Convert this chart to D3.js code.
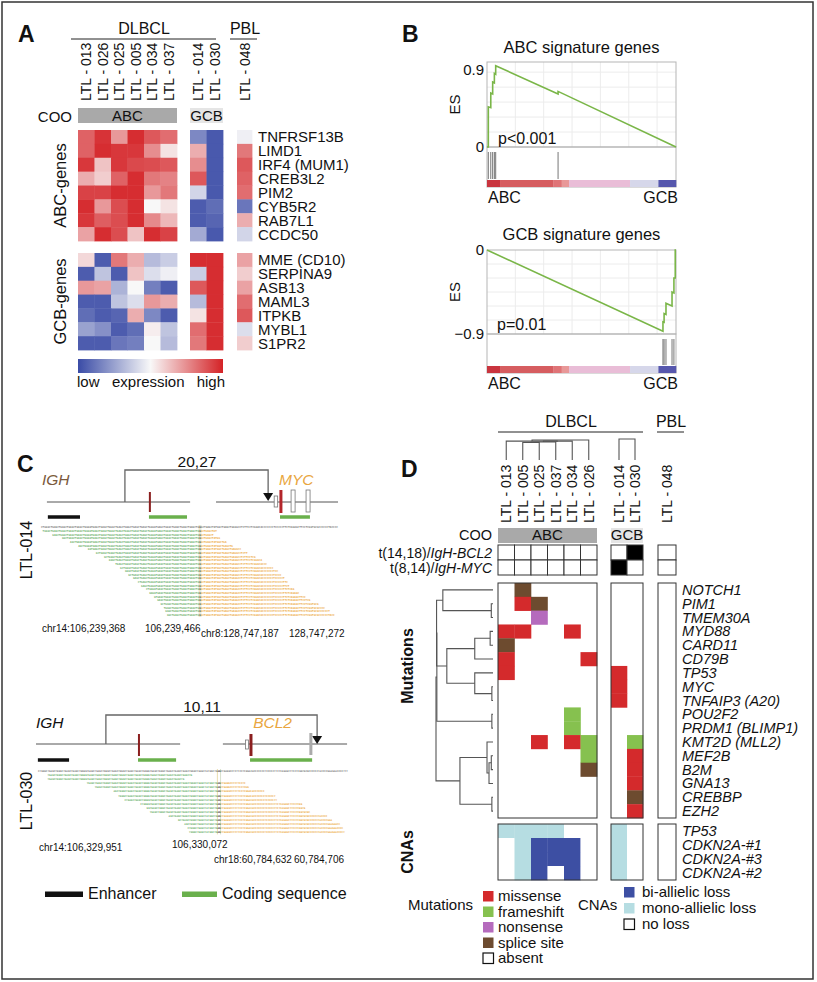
<!DOCTYPE html>
<html>
<head>
<meta charset="utf-8">
<script src="https://cdnjs.cloudflare.com/ajax/libs/d3/7.8.5/d3.min.js"></script>
<style>
  body { margin: 0; background: #fff; }
  svg { display: block; font-family: "Liberation Sans", Arial, Helvetica, sans-serif; }
</style>
</head>
<body>
<script>
// ---------------- data : panel A ----------------
const aAbcSamples = ["LTL - 013", "LTL - 026", "LTL - 025", "LTL - 005", "LTL - 034", "LTL - 037"];
const aGcbSamples = ["LTL - 014", "LTL - 030"];
const aPblSamples = ["LTL - 048"];
const abcGenes = ["TNFRSF13B", "LIMD1", "IRF4 (MUM1)", "CREB3L2", "PIM2", "CYB5R2", "RAB7L1", "CCDC50"];
const gcbGenes = ["MME (CD10)", "SERPINA9", "ASB13", "MAML3", "ITPKB", "MYBL1", "S1PR2"];
// columns: 013 026 025 005 034 037 | 014 030 | 048   (scaled expression, -1 low .. 1 high)
const abcExpr = [
  [0.70, 0.92, 0.45, 0.95, 0.75, 0.65, -0.65, -0.92, -0.05],
  [0.70, 0.95, 0.90, 0.90, 0.50, 0.10, 0.35, -0.92, 0.60],
  [0.90, 0.25, 0.90, 0.82, 0.80, 0.75, 0.50, -0.92, 0.75],
  [0.35, 0.20, 0.70, 0.95, 0.60, 0.55, 0.75, -0.92, 0.70],
  [0.85, 0.85, 0.95, 0.95, 0.45, 0.60, -0.20, -0.92, 0.65],
  [0.95, 0.45, 0.80, 0.95, 0.00, 0.10, -0.90, -0.80, -0.75],
  [0.90, 0.72, 0.80, 0.95, 0.52, 0.30, -0.90, -0.85, 0.35],
  [0.40, 0.95, 0.80, 0.25, 0.95, 0.85, -0.45, -0.92, -0.20]
];
const gcbExpr = [
  [0.15, -0.90, 0.60, 0.35, -0.35, -0.25, 0.95, 0.95, 0.40],
  [-0.90, -0.30, -0.90, 0.25, -0.15, -0.05, -0.25, 0.95, 0.20],
  [0.45, 0.40, -0.40, 0.00, -0.70, -0.90, 0.75, 0.95, 0.40],
  [-0.90, -0.90, -0.30, -0.15, 0.45, 0.35, -0.35, 0.95, 0.65],
  [-0.80, -0.90, -0.85, 0.35, -0.65, -0.90, 0.10, 0.95, 0.75],
  [-0.50, -0.60, -0.90, -0.80, 0.05, -0.30, 0.65, 0.95, -0.15],
  [-0.90, -0.90, -0.75, -0.70, 0.00, -0.35, 0.60, 0.95, 0.20]
];

// ---------------- data : panel B ----------------
const abcEsCurve = [[0, 0], [0.007, 0], [0.007, 0.47], [0.020, 0.46], [0.020, 0.63], [0.030, 0.62], [0.030, 0.76],
  [0.039, 0.75], [0.039, 0.86], [0.046, 0.85], [0.046, 0.95], [0.376, 0.62], [0.376, 0.65], [1, 0]];
const abcHits = [0.007, 0.020, 0.030, 0.039, 0.046, 0.376];
const gcbEsCurve = [[0, 0], [0.931, -0.87], [0.931, -0.77], [0.937, -0.775], [0.937, -0.68], [0.947, -0.69], [0.947, -0.57],
  [0.979, -0.60], [0.979, -0.45], [0.989, -0.46], [0.989, -0.30], [0.996, -0.30], [0.996, 0], [1, 0]];
const gcbHits = [0.931, 0.937, 0.947, 0.979, 0.989];
const rankBreaks = [0, 0.069, 0.351, 0.395, 0.434, 0.757, 0.907, 1];
const rankScores = [2.0, 1.5, 1.1, 0.8, 0.3, -0.2, -1.6];

// ---------------- data : panel C ----------------
// schematic units 0..100 across the panel
const c1IghLine = [3.5, 49.4], c1MycLine = [57.7, 96.8], c1Bracket = [28.5, 74.4];
const c1Enhancer = [3.8, 14.1], c1Coding = [[36.2, 48.4], [78.2, 87.8]];
const c1IghMark = 36.5, c1MycMark = 78.5, c1Exons = [76.9, 82.4, 87.2];
const c2IghLine = [0, 46.2], c2Bcl2Line = [59.9, 99.7], c2Bracket = [22.4, 90.1];
const c2Enhancer = [0.6, 10.6], c2Coding = [[32.7, 44.9], [68.6, 88.5]];
const c2IghMark = 33.0, c2Bcl2Mark = 68.9, c2Bcl2Exon = 67.6, c2GrayMark = 88.1;
// reads: start/end in bp along the junction window
const c1Length = 184, c1Junction = 98;
const c1ReadStart = [1, 7, 13, 18, 23, 29, 34, 39, 42, 46, 49, 52, 54, 57, 60, 62, 65, 67, 70, 72, 74, 76, 77, 78];
const c1ReadEnd = [109, 107, 111, 115, 119, 124, 128, 133, 137, 140, 144, 147, 149, 151, 153, 154, 157, 160, 164, 167, 172, 176, 179, 182];
const c2Length = 197, c2Junction = 114, c2Micro = 2;
const c2ReadStart = [6, 6, 31, 36, 48, 51, 55, 65, 69, 71, 83, 89, 93, 95, 96];
const c2ReadEnd = [98, 93, 132, 134, 144, 151, 152, 168, 170, 173, 184, 187, 192, 194, 195];
const dnaBase = "CTGGGCTGAGCTGGGCTGAGCTGAGCTGGGGTGAGCTGAGCTGGGCTGAGCTGGGCTGAGCTGAGCTGGGGTGAGCTGGGCTGAGCTGAGCTGAGCTGGGCTGAGCTATGGCTGAGCTGAGGCCTCTTCCTCGGACACCCCCCCTCCCCCTTCTCAGAGCTTCCTCGGTGCGCCCCCCTACCCCGAAGAACCCCTTTTGCTGGACG";
const dnaSeq = dnaBase + dnaBase;

// ---------------- data : panel D ----------------
const dAbcSamples = ["LTL - 013", "LTL - 005", "LTL - 025", "LTL - 037", "LTL - 034", "LTL - 026"];
const dGcbSamples = ["LTL - 014", "LTL - 030"];
const dPblSamples = ["LTL - 048"];
const transRows = ["t(14,18)/", "t(8,14)/"];
const transGenes = ["IgH-BCL2", "IgH-MYC"];
const transPositive = [["t(14,18)/", "LTL - 030"], ["t(8,14)/", "LTL - 014"]];
const mutGenes = ["NOTCH1", "PIM1", "TMEM30A", "MYD88", "CARD11", "CD79B", "TP53", "MYC", "TNFAIP3 (A20)", "POU2F2",
  "PRDM1 (BLIMP1)", "KMT2D (MLL2)", "MEF2B", "B2M", "GNA13", "CREBBP", "EZH2"];
const mutations = [
  ["NOTCH1", "LTL - 005", "splice"],
  ["PIM1", "LTL - 005", "missense"], ["PIM1", "LTL - 025", "splice"],
  ["TMEM30A", "LTL - 025", "nonsense"],
  ["MYD88", "LTL - 013", "missense"], ["MYD88", "LTL - 005", "missense"], ["MYD88", "LTL - 034", "missense"],
  ["CARD11", "LTL - 013", "splice"],
  ["CD79B", "LTL - 013", "missense"], ["CD79B", "LTL - 026", "missense"],
  ["TP53", "LTL - 013", "missense"], ["TP53", "LTL - 014", "missense"],
  ["MYC", "LTL - 014", "missense"],
  ["TNFAIP3 (A20)", "LTL - 014", "missense"],
  ["POU2F2", "LTL - 034", "frameshift"],
  ["PRDM1 (BLIMP1)", "LTL - 034", "frameshift"],
  ["KMT2D (MLL2)", "LTL - 025", "missense"], ["KMT2D (MLL2)", "LTL - 034", "missense"],
  ["KMT2D (MLL2)", "LTL - 026", "frameshift"], ["KMT2D (MLL2)", "LTL - 030", "frameshift"],
  ["MEF2B", "LTL - 026", "frameshift"], ["MEF2B", "LTL - 030", "missense"],
  ["B2M", "LTL - 026", "splice"], ["B2M", "LTL - 030", "missense"],
  ["GNA13", "LTL - 030", "missense"],
  ["CREBBP", "LTL - 030", "splice"],
  ["EZH2", "LTL - 030", "missense"]
];
const cnaGenes = ["TP53", "CDKN2A-#1", "CDKN2A-#3", "CDKN2A-#2"];
// columns: 013 005 025 037 034 026 | 014 030 | 048 ; 0 no loss, 1 mono-allelic, 2 bi-allelic
const cnaCalls = [
  [1, 1, 1, 1, 0, 0, 1, 0, 0],
  [0, 1, 2, 2, 2, 0, 1, 0, 0],
  [0, 1, 2, 2, 2, 0, 1, 0, 0],
  [0, 1, 2, 0, 2, 0, 1, 0, 0]
];
// dendrogram merges: [id, left, right, height 0..1]
const colMerges = [
  ["t1", "LTL - 005", "LTL - 025", 0.83], ["t2", "t1", "LTL - 037", 0.86], ["t3", "t2", "LTL - 034", 0.9],
  ["t4", "LTL - 013", "t3", 0.9], ["t5", "t4", "LTL - 026", 0.95], ["g1", "LTL - 014", "LTL - 030", 1.0]
];
const rowMerges = [
  ["m1", "PIM1", "TMEM30A", 0.03], ["m2", "NOTCH1", "m1", 0.88],
  ["m3", "MYD88", "CARD11", 0.05], ["m4", "m3", "CD79B", 0.32],
  ["m5", "MYC", "TNFAIP3 (A20)", 0.02], ["m6", "TP53", "m5", 0.32], ["m7", "m4", "m6", 0.81],
  ["m8", "POU2F2", "PRDM1 (BLIMP1)", 0.02],
  ["m9", "m2", "m7", 0.99], ["m10", "m9", "m8", 0.985],
  ["b1", "MEF2B", "B2M", 0.03], ["b2", "b1", "GNA13", 0.07], ["b3", "KMT2D (MLL2)", "b2", 0.105],
  ["b4", "CREBBP", "EZH2", 0.02], ["b5", "b3", "b4", 0.58], ["root", "m10", "b5", 1.0]
];
const mutTypes = ["missense", "frameshift", "nonsense", "splice", "absent"];
const mutTypeLabels = ["missense", "frameshift", "nonsense", "splice site", "absent"];
const cnaTypes = [2, 1, 0];
const cnaTypeLabels = ["bi-allielic loss", "mono-allielic loss", "no loss"];

// ---------------- drawing ----------------
const svg = d3.select("body").append("svg").attr("width", 817).attr("height", 982);
svg.append("rect").attr("x", 2).attr("y", 2).attr("width", 811).attr("height", 977)
  .attr("fill", "#fff").attr("stroke", "#333").attr("stroke-width", 1.5);

function label(g, x, y, s, size, anchor) {
  return g.append("text").attr("x", x).attr("y", y).attr("text-anchor", anchor || "start")
    .style("font-size", size + "px").attr("fill", "#111").text(s);
}
function vlabel(g, x, y, s, size, anchor) {
  return g.append("text").attr("transform", "translate(" + x + "," + y + ") rotate(-90)")
    .attr("text-anchor", anchor || "middle").style("font-size", size + "px").attr("fill", "#111").text(s);
}
function hline(g, x1, x2, y, color, w) {
  g.append("line").attr("x1", x1).attr("x2", x2).attr("y1", y).attr("y2", y)
    .attr("stroke", color || "#222").attr("stroke-width", w || 1);
}

const heatColor = d3.scaleLinear().domain([-1, 0, 1]).range(["#3a4ba6", "#f8f8f8", "#d42226"]);

// ===== Panel A =====
const A = svg.append("g");
label(A, 18, 42, "A", 23).style("font-weight", "bold");
label(A, 144, 34, "DLBCL", 16, "middle");
hline(A, 71, 216, 39);
label(A, 245, 34, "PBL", 16, "middle");
hline(A, 230, 257, 39);

const axAbc = d3.scaleBand().domain(aAbcSamples).range([78, 177]);
const axGcb = d3.scaleBand().domain(aGcbSamples).range([190, 223]);
const axPbl = d3.scaleBand().domain(aPblSamples).range([237, 252]);
const aCols = aAbcSamples.map(s => [s, axAbc]).concat(aGcbSamples.map(s => [s, axGcb]), aPblSamples.map(s => [s, axPbl]));

aCols.forEach(([s, sc]) => {
  vlabel(A, sc(s) + sc.bandwidth() / 2 + 5, 101, s, 14, "start");
});

label(A, 72, 122, "COO", 15, "end");
A.append("rect").attr("x", 78).attr("y", 108).attr("width", 99).attr("height", 15).attr("fill", "#a9a9a9");
label(A, 127.5, 121, "ABC", 15, "middle");
A.append("rect").attr("x", 190).attr("y", 108).attr("width", 33).attr("height", 15).attr("fill", "#e5e5e5");
label(A, 206.5, 121, "GCB", 15, "middle");

const ayAbc = d3.scaleBand().domain(abcGenes).range([130, 241]);
const ayGcb = d3.scaleBand().domain(gcbGenes).range([253, 350]);
function drawHeat(genes, expr, ys) {
  genes.forEach((gname, i) => {
    aCols.forEach(([s, sc], j) => {
      A.append("rect").attr("x", sc(s)).attr("y", ys(gname))
        .attr("width", sc.bandwidth() + 0.4).attr("height", ys.bandwidth() + 0.4)
        .attr("fill", heatColor(expr[i][j]));
    });
    label(A, 258, ys(gname) + ys.bandwidth() / 2 + 5.5, gname, 15);
  });
}
drawHeat(abcGenes, abcExpr, ayAbc);
drawHeat(gcbGenes, gcbExpr, ayGcb);
vlabel(A, 66, 185.5, "ABC-genes", 16.5);
vlabel(A, 66, 301.5, "GCB-genes", 16.5);

const grad = svg.append("defs").append("linearGradient").attr("id", "heatgrad");
[-1, -0.5, 0, 0.5, 1].forEach(v => {
  grad.append("stop").attr("offset", ((v + 1) / 2 * 100) + "%").attr("stop-color", heatColor(v));
});
A.append("rect").attr("x", 78).attr("y", 359).attr("width", 145).attr("height", 14).attr("fill", "url(#heatgrad)");
label(A, 77, 387, "low", 15);
label(A, 112, 387, "expression", 15);
label(A, 225, 387, "high", 15, "end");

// ===== Panel B =====
const B = svg.append("g");
label(B, 402, 42, "B", 23).style("font-weight", "bold");
const rankColor = d3.scaleLinear().domain([-1.6, -0.2, 0.3, 0.8, 1.1, 1.5, 2.0])
  .range(["#5657ad", "#d6d7ea", "#e9bdd7", "#e89898", "#df7477", "#d65d60", "#c9343e"]);

function drawGsea(cfg) {
  const g = B.append("g");
  const x = d3.scaleLinear().domain([0, 1]).range([487, 676]);
  const y = d3.scaleLinear().domain(cfg.domain).range(cfg.range);
  const top = cfg.boxTop, bottom = cfg.esBottom;
  label(g, 581.5, cfg.titleY, cfg.title, 16.5, "middle");
  // grid
  d3.range(0.15, 0.95, 0.15).forEach(f => {
    g.append("line").attr("x1", x(f)).attr("x2", x(f)).attr("y1", top).attr("y2", bottom).attr("stroke", "#ececec");
  });
  cfg.grid.forEach(v => {
    g.append("line").attr("x1", 487).attr("x2", 676).attr("y1", y(v)).attr("y2", y(v)).attr("stroke", "#ececec");
  });
  g.append("rect").attr("x", 487).attr("y", top).attr("width", 189).attr("height", bottom - top)
    .attr("fill", "none").attr("stroke", "#b5b5b5");
  // rank area
  g.append("rect").attr("x", 487).attr("y", bottom).attr("width", 189).attr("height", cfg.barBottom - bottom)
    .attr("fill", "none").attr("stroke", "#b5b5b5");
  cfg.hits.forEach(h => {
    g.append("line").attr("x1", x(h)).attr("x2", x(h)).attr("y1", bottom + 5).attr("y2", cfg.barBottom - 8)
      .attr("stroke", "#666").attr("stroke-width", 0.9);
  });
  rankScores.forEach((s, i) => {
    g.append("rect").attr("x", x(rankBreaks[i])).attr("y", cfg.barBottom - 7)
      .attr("width", x(rankBreaks[i + 1]) - x(rankBreaks[i]) + 0.3).attr("height", 7).attr("fill", rankColor(s));
  });
  label(g, 488, cfg.barBottom + 16, "ABC", 16);
  label(g, 678, cfg.barBottom + 16, "GCB", 16, "end");
  // curve
  g.append("path").attr("d", d3.line().x(d => x(d[0])).y(d => y(d[1]))(cfg.curve))
    .attr("fill", "none").attr("stroke", "#7ab648").attr("stroke-width", 1.6);
  // axis
  const ax = g.append("g").attr("transform", "translate(487,0)")
    .call(d3.axisLeft(y).tickValues(cfg.ticks).tickSize(0).tickPadding(3).tickFormat(d3.format("")));
  ax.select(".domain").remove();
  ax.selectAll("text").style("font-size", "15px").style("font-family", "inherit").attr("fill", "#111");
  vlabel(g, 460, (top + bottom) / 2, "ES", 15);
  label(g, cfg.pX, cfg.pY, cfg.pText, 16);
}
drawGsea({ title: "ABC signature genes", titleY: 53, domain: [0, 0.9], range: [147, 70], boxTop: 62, esBottom: 147,
  barBottom: 187, grid: [0.175, 0.35, 0.525, 0.7, 0.875], hits: abcHits, curve: abcEsCurve, ticks: [0, 0.9],
  pText: "p<0.001", pX: 498, pY: 144 });
drawGsea({ title: "GCB signature genes", titleY: 240, domain: [-0.9, 0], range: [334, 250], boxTop: 250, esBottom: 334,
  barBottom: 373, grid: [-0.15, -0.3, -0.45, -0.6, -0.75], hits: gcbHits, curve: gcbEsCurve, ticks: [0, -0.9],
  pText: "p=0.01", pX: 497, pY: 330 });

// ===== Panel C =====
const C = svg.append("g");
label(C, 17, 472, "C", 23).style("font-weight", "bold");
const cx = d3.scaleLinear().domain([0, 100]).range([36, 348]);
const green = "#6ab04c", darkRed = "#8b1f1f", orange = "#e9a640", gene = "#555";

function bracket(g, x1, x2, yLine, yTop, yArrow, text, textX) {
  g.append("path").attr("d", d3.line()([[cx(x1), yLine], [cx(x1), yTop], [cx(x2), yTop], [cx(x2), yArrow - 6]]))
    .attr("fill", "none").attr("stroke", "#666").attr("stroke-width", 1.3);
  g.append("path").attr("d", d3.line()([[cx(x2) - 5, yArrow - 7], [cx(x2) + 5, yArrow - 7], [cx(x2), yArrow + 1]]) + "Z")
    .attr("fill", "#111");
  label(g, cx(textX), yTop - 3, text, 15.5, "middle");
}
function bar(g, range, y, color, w) {
  g.append("line").attr("x1", cx(range[0])).attr("x2", cx(range[1])).attr("y1", y).attr("y2", y)
    .attr("stroke", color).attr("stroke-width", w);
}
function mark(g, pos, y1, y2, color, w) {
  g.append("rect").attr("x", cx(pos) - w / 2).attr("y", y1).attr("width", w).attr("height", y2 - y1).attr("fill", color);
}
function exon(g, pos, y1, y2, w, stroke) {
  g.append("rect").attr("x", cx(pos) - w / 2).attr("y", y1).attr("width", w).attr("height", y2 - y1)
    .attr("fill", "#fff").attr("stroke", stroke || "#777").attr("stroke-width", 0.8);
}

// LTL-014 : IGH-MYC
label(C, 42, 485, "IGH", 15.5).style("font-style", "italic").attr("fill", "#7b5a3c");
label(C, 279, 485, "MYC", 15.5).style("font-style", "italic").attr("fill", orange);
bar(C, c1IghLine, 502, gene, 1);
bar(C, c1MycLine, 502, gene, 1);
bracket(C, c1Bracket[0], c1Bracket[1], 502, 470, 500, "20,27", 51.6);
mark(C, c1IghMark, 492, 512, darkRed, 2);
exon(C, c1Exons[0], 496, 507, 3.5);
mark(C, c1MycMark, 490, 513, "#b3262a", 3);
exon(C, c1Exons[1], 490, 512, 4);
exon(C, c1Exons[2], 490, 512, 4);
bar(C, c1Enhancer, 517, "#111", 3.5);
c1Coding.forEach(r => bar(C, r, 517, green, 3.5));
vlabel(C, 32, 550, "LTL-014", 16);

// each read: green part (IGH side), junction bases, orange part (partner side)
function drawReads(g, len, xr, junc, jlen, refY, y0, step, starts, ends, fs) {
  const bx = d3.scaleLinear().domain([0, len]).range(xr);
  const seg = (a, b, y, color) => {
    if (b <= a) return;
    g.append("text").attr("x", bx(a)).attr("y", y)
      .attr("textLength", bx(b) - bx(a) - 0.1).attr("lengthAdjust", "spacingAndGlyphs")
      .style("font-family", "'DejaVu Sans Mono', monospace").style("font-size", fs + "px").style("font-weight", "bold")
      .attr("fill", color).text(dnaSeq.slice(a, b));
  };
  const rows = [[0, len, refY, true]].concat(starts.map((s, i) => [s, ends[i], y0 + i * step, false]));
  const lastY = y0 + (starts.length - 1) * step;
  g.append("line").attr("x1", bx(junc)).attr("x2", bx(junc)).attr("y1", refY - 3).attr("y2", lastY + 1)
    .attr("stroke", "#e6d49a").attr("stroke-width", 0.8);
  g.append("line").attr("x1", bx(junc + jlen)).attr("x2", bx(junc + jlen)).attr("y1", refY - 3).attr("y2", lastY + 1)
    .attr("stroke", "#cfd9c0").attr("stroke-width", 0.8);
  rows.forEach(([s, e, y, ref]) => {
    seg(s, Math.min(e, junc), y, ref ? "#777" : "#66ad66");
    if (e > junc) seg(junc, Math.min(e, junc + jlen), y, "#333");
    if (e > junc + jlen) seg(junc + jlen, e, y, ref ? "#777" : "#eca83c");
  });
}
drawReads(C, c1Length, [41, 338], c1Junction, 1, 528, 532, 3.65, c1ReadStart, c1ReadEnd, 2.65);
label(C, 42, 632, "chr14:106,239,368", 10);
label(C, 145, 632, "106,239,466", 10);
label(C, 201, 637, "chr8:128,747,187", 10);
label(C, 289, 637, "128,747,272", 10);

// LTL-030 : IGH-BCL2
label(C, 36, 728, "IGH", 15.5).style("font-style", "italic");
label(C, cx(69.6), 728, "BCL2", 15.5).style("font-style", "italic").attr("fill", orange);
bar(C, c2IghLine, 744, gene, 1);
bar(C, c2Bcl2Line, 744, gene, 1);
bracket(C, c2Bracket[0], c2Bracket[1], 744, 715, 743, "10,11", 53.2);
mark(C, c2IghMark, 734, 756, darkRed, 2);
exon(C, c2Bcl2Exon, 740, 749, 3);
mark(C, c2Bcl2Mark, 734, 756, "#8b1f1f", 3);
mark(C, c2GrayMark, 733, 755, "#aaa", 3);
bar(C, c2Enhancer, 760, "#111", 3.5);
c2Coding.forEach(r => bar(C, r, 760, green, 3.5));
vlabel(C, 32, 801, "LTL-030", 16);
drawReads(C, c2Length, [38, 348], c2Junction, c2Micro, 772, 776, 4.1, c2ReadStart, c2ReadEnd, 2.55);
label(C, 39, 851, "chr14:106,329,951", 10);
label(C, 172, 848, "106,330,072", 10);
label(C, 214, 863, "chr18:60,784,632", 10);
label(C, 294, 863, "60,784,706", 10);

// legend
C.append("rect").attr("x", 45).attr("y", 891.5).attr("width", 38).attr("height", 5.5).attr("fill", "#111");
label(C, 88, 899, "Enhancer", 16);
C.append("rect").attr("x", 182).attr("y", 891.5).attr("width", 35).attr("height", 5.5).attr("fill", green);
label(C, 222, 899, "Coding sequence", 16);

// ===== Panel D =====
const D = svg.append("g");
label(D, 401, 477, "D", 23).style("font-weight", "bold");
label(D, 571, 427, "DLBCL", 16, "middle");
hline(D, 498, 643, 432);
label(D, 671, 427, "PBL", 16, "middle");
hline(D, 657, 684, 432);

const dxAbc = d3.scaleBand().domain(dAbcSamples).range([498, 597]);
const dxGcb = d3.scaleBand().domain(dGcbSamples).range([611, 643]);
const dxPbl = d3.scaleBand().domain(dPblSamples).range([658, 676]);
const dGroups = [[dAbcSamples, dxAbc], [dGcbSamples, dxGcb], [dPblSamples, dxPbl]];
const dCols = [];
dGroups.forEach(([ss, sc]) => ss.forEach(s => dCols.push([s, sc])));
const dScale = s => dCols.find(c => c[0] === s)[1];

dCols.forEach(([s, sc]) => vlabel(D, sc(s) + sc.bandwidth() / 2 + 5, 523, s, 14, "start"));

function drawDendro(g, pos, merges, hPix, rowwise) {
  const nodes = {};
  Object.keys(pos).forEach(k => { nodes[k] = { p: pos[k], h: 0 }; });
  const line = d3.line().x(d => rowwise ? hPix(d[1]) : d[0]).y(d => rowwise ? d[0] : hPix(d[1]));
  merges.forEach(([id, a, b, h]) => {
    const n1 = nodes[a], n2 = nodes[b];
    g.append("path").attr("d", line([[n1.p, n1.h], [n1.p, h], [n2.p, h], [n2.p, n2.h]]))
      .attr("fill", "none").attr("stroke", "#555").attr("stroke-width", 1.1);
    nodes[id] = { p: (n1.p + n2.p) / 2, h: h };
  });
}
const colPos = {};
dCols.slice(0, 8).forEach(([s, sc]) => { colPos[s] = sc(s) + sc.bandwidth() / 2; });
drawDendro(D, colPos, colMerges, d3.scaleLinear().domain([0, 1]).range([460, 439]), false);

// COO
label(D, 492, 540, "COO", 14.5, "end");
D.append("rect").attr("x", 498).attr("y", 528).attr("width", 99).attr("height", 15).attr("fill", "#a9a9a9");
label(D, 547.5, 540, "ABC", 15, "middle");
D.append("rect").attr("x", 611).attr("y", 528).attr("width", 32).attr("height", 15).attr("fill", "#e5e5e5");
label(D, 627, 540, "GCB", 15, "middle");

// translocations
const ty = d3.scaleBand().domain(transRows).range([545, 575]);
transRows.forEach((r, i) => {
  const t = D.append("text").attr("x", 492).attr("y", ty(r) + ty.bandwidth() / 2 + 5).attr("text-anchor", "end")
    .style("font-size", "14px").attr("fill", "#111");
  t.append("tspan").text(r);
  t.append("tspan").style("font-style", "italic").text(transGenes[i]);
  dCols.forEach(([s, sc]) => {
    const pos = transPositive.some(p => p[0] === r && p[1] === s);
    D.append("rect").attr("x", sc(s)).attr("y", ty(r)).attr("width", sc.bandwidth()).attr("height", ty.bandwidth())
      .attr("fill", pos ? "#000" : "#fff").attr("stroke", "#333").attr("stroke-width", 1);
  });
});

// mutations
const mutColor = { missense: "#d42a2c", frameshift: "#86c14f", nonsense: "#b56bbd", splice: "#6d4b2f" };
const my = d3.scaleBand().domain(mutGenes).range([583, 818]);
mutations.forEach(([gn, s, t]) => {
  const sc = dScale(s);
  D.append("rect").attr("x", sc(s)).attr("y", my(gn)).attr("width", sc.bandwidth() + 0.3).attr("height", my.bandwidth() + 0.3)
    .attr("fill", mutColor[t]);
});
mutGenes.forEach(gn => label(D, 682, my(gn) + my.bandwidth() / 2 + 5, gn, 14.5).style("font-style", "italic"));
const rowPos = {};
mutGenes.forEach(gn => { rowPos[gn] = my(gn) + my.bandwidth() / 2; });
drawDendro(D, rowPos, rowMerges, d3.scaleLinear().domain([0, 1]).range([493, 436]), true);

// CNAs
const cnaColor = d3.scaleOrdinal().domain([0, 1, 2]).range(["#ffffff", "#b6dde2", "#3d4fa3"]);
const cy = d3.scaleBand().domain(cnaGenes).range([824, 880]);
cnaGenes.forEach((gn, i) => {
  dCols.forEach(([s, sc], j) => {
    D.append("rect").attr("x", sc(s)).attr("y", cy(gn)).attr("width", sc.bandwidth() + 0.3).attr("height", cy.bandwidth() + 0.3)
      .attr("fill", cnaColor(cnaCalls[i][j]));
  });
  label(D, 682, cy(gn) + cy.bandwidth() / 2 + 5, gn, 14.5).style("font-style", "italic");
});

// group boxes
dGroups.forEach(([ss, sc]) => {
  const r = sc.range();
  [[583, 818], [824, 880]].forEach(([y1, y2]) => {
    D.append("rect").attr("x", r[0]).attr("y", y1).attr("width", r[1] - r[0]).attr("height", y2 - y1)
      .attr("fill", "none").attr("stroke", "#333").attr("stroke-width", 1);
  });
});
vlabel(D, 413, 666, "Mutations", 16).style("font-weight", "bold");
vlabel(D, 413, 852, "CNAs", 16).style("font-weight", "bold");

// legend
label(D, 473, 910, "Mutations", 15, "end");
mutTypes.forEach((t, i) => {
  const y = 891 + i * 15.5;
  D.append("rect").attr("x", 483).attr("y", y).attr("width", 10.5).attr("height", 10.5)
    .attr("fill", mutColor[t] || "#fff").attr("stroke", mutColor[t] ? "none" : "#111").attr("stroke-width", 1.2);
  label(D, 498, y + 10, mutTypeLabels[i], 15);
});
label(D, 578, 910, "CNAs", 15);
cnaTypes.forEach((t, i) => {
  const y = 887 + i * 16;
  D.append("rect").attr("x", 624).attr("y", y).attr("width", 10.5).attr("height", 10.5)
    .attr("fill", cnaColor(t)).attr("stroke", t === 0 ? "#111" : "none").attr("stroke-width", 1.2);
  label(D, 642, y + 10, cnaTypeLabels[i], 15);
});
</script>
</body>
</html>
